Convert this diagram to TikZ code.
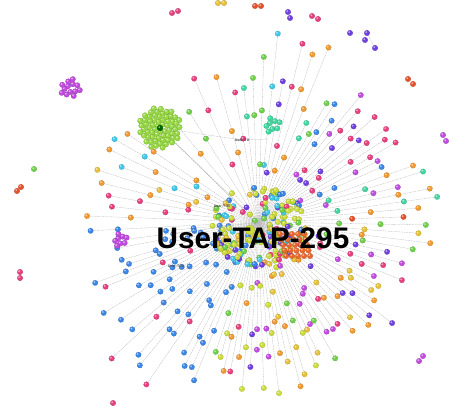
\documentclass[tikz,border=0pt]{standalone}
\usepackage{fontspec}
\setmainfont{Liberation Sans}
\usepackage{tikz}
\usetikzlibrary{positioning,calc}

\definecolor{cblue}{HTML}{3B86E6}
\definecolor{cpink}{HTML}{E8407F}
\definecolor{cmagenta}{HTML}{C24BE0}
\definecolor{cpurple}{HTML}{7040E0}
\definecolor{corange}{HTML}{F09A30}
\definecolor{cred}{HTML}{E8502A}
\definecolor{cyellow}{HTML}{E6C23A}
\definecolor{cyg}{HTML}{CCDD3A}
\definecolor{cgreen}{HTML}{6FD04A}
\definecolor{clime}{HTML}{98DA45}
\definecolor{cteal}{HTML}{40D8A0}
\definecolor{ccyan}{HTML}{40C8E8}

\tikzset{
  ball/.style={circle,inner sep=0pt,minimum size=5.5pt,fill=#1,draw=#1!75!black,line width=.2pt,
    path picture={\fill[white,opacity=.55] ($(path picture bounding box.center)+(-.8pt,.8pt)$) circle (1pt);}},
  link/.style={gray!55,line width=.3pt,dash pattern=on 2pt off .7pt},
  tag/.style={font=\fontsize{3.6}{4}\selectfont\bfseries,text=black!75},
}

\pgfmathdeclarerandomlist{east}{{cteal}{cred}{cpink}{cyellow}{cgreen}{ccyan}{cmagenta}{corange}}
\pgfmathdeclarerandomlist{upright}{{corange}{corange}{cmagenta}{cpink}{cpurple}{cblue}}
\pgfmathdeclarerandomlist{north}{{cgreen}{cteal}{ccyan}{cpink}{corange}{cpurple}{cteal}}
\pgfmathdeclarerandomlist{upleft}{{cpink}{corange}{cgreen}}
\pgfmathdeclarerandomlist{west}{{cgreen}{cyellow}{ccyan}{corange}{cpink}{ccyan}}
\pgfmathdeclarerandomlist{lowleft}{{cblue}{cblue}{cblue}{cblue}{cblue}{cblue}{cpink}}
\pgfmathdeclarerandomlist{south}{{cgreen}{cyellow}{ccyan}{cpurple}{cmagenta}{corange}{cpink}{cyg}}
\pgfmathdeclarerandomlist{lowright}{{cpurple}{cmagenta}{corange}{cyellow}{cpink}{cmagenta}}
\pgfmathdeclarerandomlist{core}{{cyg}{cyg}{cyg}{cyg}{cpink}{cpurple}{ccyan}{cgreen}{cblue}{cyellow}}

% one fan of rays around the hub
\newcommand{\raysector}[6]{%
  \foreach \a in {#1,#2,...,#3} {
    \pgfmathsetmacro{\r}{#4+#5*rnd}
    \pgfmathsetmacro{\f}{0.6+0.25*rnd}
    \pgfmathsetmacro{\g}{0.3+0.2*rnd}
    \pgfmathsetmacro{\k}{rnd}
    \pgfmathrandomitem{\col}{#6}
    \draw[link] (0,0) -- (\a:\r) node[ball=\col] {};
    \node[ball=\col] at (\a:{\f*\r}) {};
    \ifdim\k pt<0.45pt \node[ball=\col] at (\a:{\g*\r}) {}; \fi
  }}

\begin{document}
\begin{tikzpicture}[x=1pt,y=1pt]
    \useasboundingbox (0,0) rectangle (449,407);
    \pgfmathsetseed{295}
    \coordinate (hub) at (258,185);
    \coordinate (gc) at (160,279);

    % lines from the green cluster
    \draw[link] (gc) -- (hub);
    \draw[link] (gc) -- ($(hub)+(-10,8)$);
    \draw[link] (gc) -- ($(hub)+(8,-10)$);
    \draw[link] (gc) -- (242,267) -- (268,268);

    \begin{scope}[shift={(hub)}]
    \raysector{-10}{-7}{22}{140}{45}{east}
    \raysector{24}{27}{58}{120}{45}{upright}
    \raysector{60}{64}{100}{110}{80}{north}
    \raysector{106}{114}{130}{120}{50}{upleft}
    \raysector{146}{150}{178}{115}{65}{west}
    \raysector{183}{185.5}{250}{80}{130}{lowleft}
    \raysector{252}{254.5}{300}{100}{75}{south}
    \raysector{302}{305}{348}{120}{50}{lowright}

    % dense core
    \foreach \i in {1,...,190} {
      \pgfmathsetmacro{\r}{4+38*sqrt(rnd)}
      \pgfmathsetmacro{\t}{360*rnd}
      \pgfmathsetmacro{\cx}{1.15*\r*cos(\t)}
      \pgfmathsetmacro{\cy}{-4+0.95*\r*sin(\t)}
      \pgfmathrandomitem{\col}{core}
      \node[ball=\col] at (\cx,\cy) {};
    }
    % orange block
    \foreach \i in {0,...,4} \foreach \j in {0,...,4} {
      \node[ball=cred!70!corange] at (22+6*\i+1.5*\j,-12-5.5*\j) {};
    }
    \node[ball=cyg,minimum size=10pt] (hubball) at (-8,-8) {};
    \end{scope}

    % green cluster
    \begin{scope}[shift={(gc)}]
    \foreach \i in {1,...,64} {
      \pgfmathsetmacro{\r}{21*sqrt(\i/64)}
      \node[ball=clime] at ({\i*137.5}:{\r}) {};
    }
    \node[ball=green!40!black,minimum size=6pt] (gcore) at (0,0) {};
    \end{scope}

    % purple cluster
    \begin{scope}[shift={(70,319)}]
    \foreach \i in {1,...,13} {
      \pgfmathsetmacro{\r}{10*sqrt(\i/13)}
      \node[ball=cmagenta] at ({\i*137.5}:{\r}) {};
    }
    \end{scope}
    \draw[link] (122,167) -- (hub);
    \begin{scope}[shift={(120,167)}]
    \foreach \i in {1,...,8} {
      \pgfmathsetmacro{\r}{7*sqrt(\i/8)}
      \node[ball=cmagenta] at ({\i*137.5}:{\r}) {};
    }
    \end{scope}
    % teal group
    \begin{scope}[shift={(272,282)}]
    \foreach \i in {1,...,8} {
      \pgfmathsetmacro{\r}{8*sqrt(\i/8)}
      \node[ball=cteal] at ({\i*137.5}:{\r}) {};
    }
    \end{scope}

    % loose pairs
    \foreach \x/\y/\col in {172/394/cpink,178/396/cpink,218/404/cyellow,224/404/cyellow,
        255/401/cred,261/401/cred,288/395/cpurple,290/389/cpurple,312/391/cpink,318/388/cpink,
        408/328/cred,413/323/cred,443/272/cmagenta,446/266/cmagenta,
        17/216/cred,21/220/cred,34/238/cgreen,20/135/cpink,20/129/cpink,
        419/46/cmagenta,423/51/cmagenta,113/4/cpink} {
      \node[ball=\col] at (\x,\y) {};
    }
    \draw[link] (350,374) -- (367,374) -- (375,359);
    \node[ball=cpurple] (p1) at (350,374) {};
    \node[ball=cpurple] (p2) at (367,374) {};
    \node[ball=cpurple] (p3) at (365,367) {};
    \node[ball=cpurple] (p4) at (375,359) {};

    \node[font=\fontsize{29.7}{30}\selectfont\bfseries] (title) at (253,169) {User-TAP-295};
    \node[tag] (t8) at (242,267) {User-T 8};
    \node[tag] (t35) at (222,201) {User-T 35};
    \node[tag] (t21) at (176,141) {User-T 21};
\end{tikzpicture}
\end{document}
